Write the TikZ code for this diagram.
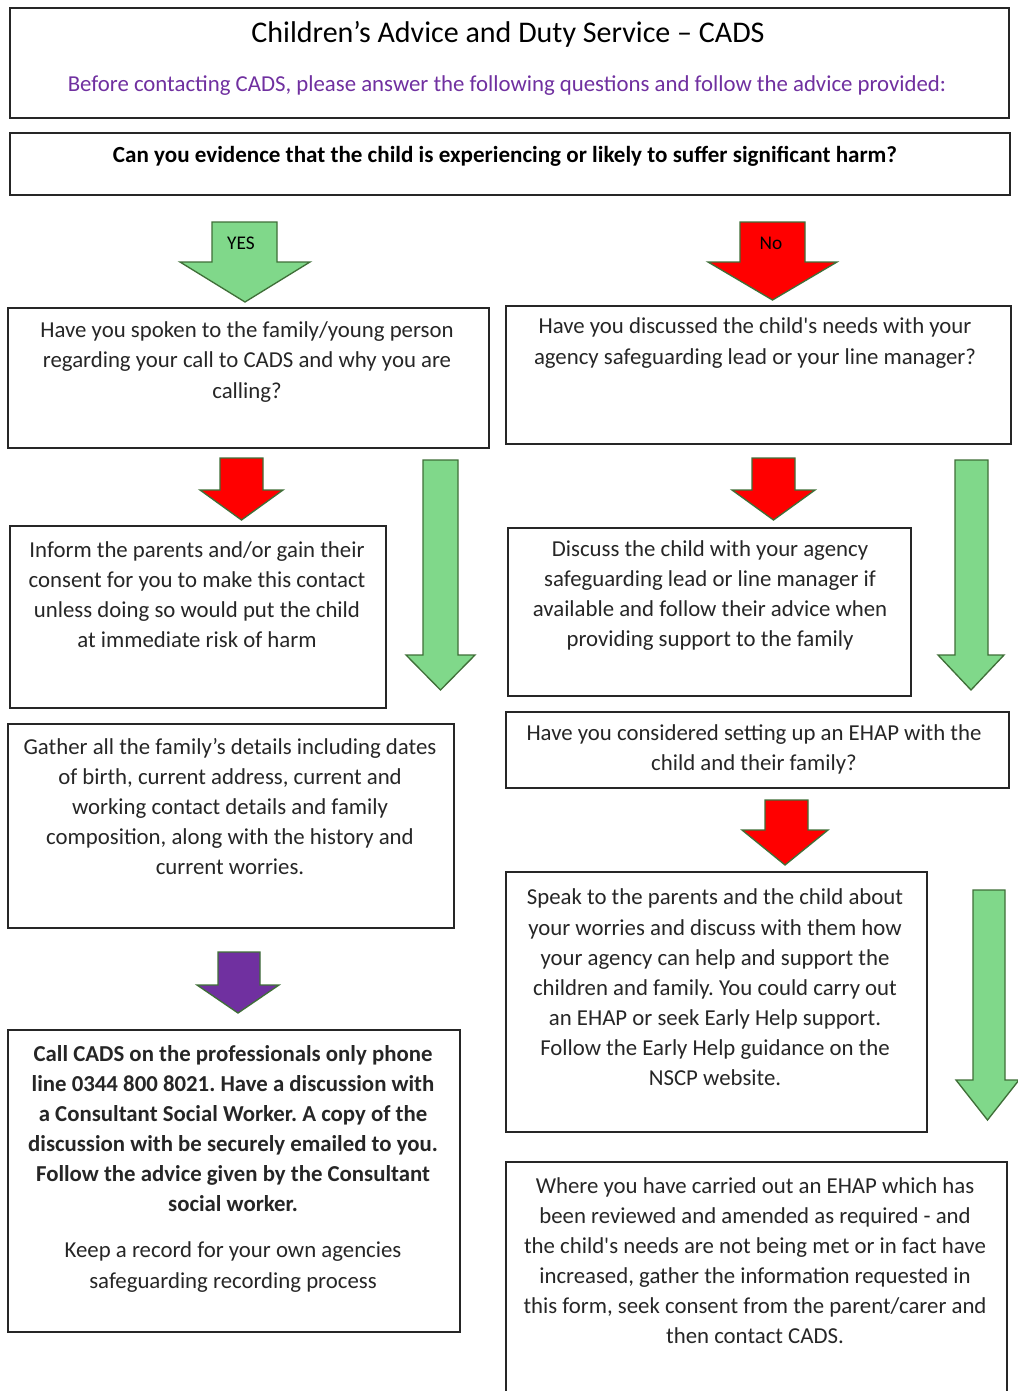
\documentclass[tikz,border=0pt]{standalone}
\usepackage{fontspec}
\setmainfont{Carlito}
\frenchspacing
\definecolor{cpurple}{HTML}{7030A0}
\definecolor{cgreen}{HTML}{80D88A}
\definecolor{cedge}{HTML}{3F6F38}
\definecolor{cred}{HTML}{FF0000}
\definecolor{cviolet}{HTML}{7030A0}
\newcommand\blkarrow[8]{\draw[#1] (#2,#4)--(#3,#4)--(#3,#5)--(#7,#5)--({(#6+#7)/2},#8)--(#6,#5)--(#2,#5)--cycle;}
\newcommand\sq{\textquotesingle}
\tikzset{
  pbox/.style 2 args={draw=black!85, line width=1.1pt, minimum width=#1*0.75pt, minimum height=#2*0.75pt, inner sep=0pt},
  txt/.style={align=center, inner sep=0pt, font=\fontsize{17.1}{22.6}\selectfont, text=black!85},
  btxt/.style={align=center, inner sep=0pt, font=\fontsize{17.1}{22.6}\selectfont\bfseries, text=black!85},
  garrow/.style={fill=cgreen, draw=cedge, line width=1pt, line join=miter},
  rarrow/.style={fill=cred, draw=cedge, line width=1pt, line join=miter},
  parrow/.style={fill=cviolet, draw=cedge, line width=1pt, line join=miter}
}
\begin{document}
\begin{tikzpicture}[x=0.75pt,y=-0.75pt]
\useasboundingbox (0,0) rectangle (1017,1391);
\fill[white] (0,0) rectangle (1017,1391);
% title
\node[pbox={999}{110}, line width=1.5pt] (title) at (509.5,63) {};
\node[inner sep=0pt, font=\fontsize{22.5}{26}\selectfont, text=black] (titlet) at (508,34) {Children’s Advice and Duty Service – CADS};
\node[inner sep=0pt, font=\fontsize{17.1}{20}\selectfont, text=cpurple] (subt) at (507,86) {Before contacting CADS, please answer the following questions and follow the advice provided:};
% question
\node[pbox={1000}{62}] (q) at (510,164) {};
\node[inner sep=0pt, font=\fontsize{17.3}{20}\selectfont\bfseries, text=black] (qt) at (505,156) {Can you evidence that the child is experiencing or likely to suffer significant harm?};
% yes / no arrows
\blkarrow{garrow}{212}{277}{222}{262}{180}{310}{302}
\node[inner sep=0pt, font=\fontsize{14.5}{16}\selectfont] (yes) at (241,243) {YES};
\blkarrow{rarrow}{740}{805}{222}{262}{708}{837}{300}
\node[inner sep=0pt, font=\fontsize{14.5}{16}\selectfont] (no) at (771,243) {No};
% left column
\node[pbox={481}{140}] (l1) at (248.5,378) {};
\node[txt] (l1t) at (247,362) {Have you spoken to the family/young person\\regarding your call to CADS and why you are\\calling?};
\blkarrow{rarrow}{220}{263}{458}{490}{200}{283}{520}
\blkarrow{garrow}{423}{458}{460}{655}{406}{475}{690}
\node[pbox={376}{182}] (l2) at (198,617) {};
\node[txt] (l2t) at (197,594.5) {Inform the parents and/or gain their\\consent for you to make this contact\\unless doing so would put the child\\at immediate risk of harm};
\node[pbox={446}{204}] (l3) at (231,826) {};
\node[txt] (l3t) at (230,806.5) {Gather all the family’s details including dates\\of birth, current address, current and\\working contact details and family\\composition, along with the history and\\current worries.};
\blkarrow{parrow}{218}{260}{952}{985}{197}{279}{1013}
\node[pbox={452}{302}] (l4) at (234,1181) {};
\node[btxt] (l4t) at (233,1128.5) {Call CADS on the professionals only phone\\line 0344 800 8021. Have a discussion with\\a Consultant Social Worker. A copy of the\\discussion with be securely emailed to you.\\Follow the advice given by the Consultant\\social worker.};
\node[txt] (l4u) at (233,1267) {Keep a record for your own agencies\\safeguarding recording process};
% right column
\node[pbox={505}{138}] (r1) at (758.5,375) {};
\node[txt] (r1t) at (755,343) {Have you discussed the child\sq s needs with your\\agency safeguarding lead or your line manager?};
\blkarrow{rarrow}{752}{795}{458}{490}{732}{815}{520}
\blkarrow{garrow}{955}{988}{460}{655}{938}{1004}{690}
\node[pbox={403}{168}] (r2) at (709.5,612) {};
\node[txt] (r2t) at (710,595.5) {Discuss the child with your agency\\safeguarding lead or line manager if\\available and follow their advice when\\providing support to the family};
\node[pbox={503}{76}] (r3) at (757.5,750) {};
\node[txt] (r3t) at (754,749) {Have you considered setting up an EHAP with the\\child and their family?};
\blkarrow{rarrow}{765}{808}{800}{830}{742}{828}{865}
\node[pbox={421}{260}] (r4) at (716.5,1002) {};
\node[txt] (r4t) at (715,987.5) {Speak to the parents and the child about\\your worries and discuss with them how\\your agency can help and support the\\children and family. You could carry out\\an EHAP or seek Early Help support.\\Follow the Early Help guidance on the\\NSCP website.};
\blkarrow{garrow}{973}{1005}{890}{1080}{956}{1019}{1120}
\node[pbox={501}{240}] (r5) at (756.5,1282) {};
\node[txt] (r5t) at (755,1260.5) {Where you have carried out an EHAP which has\\been reviewed and amended as required - and\\the child\sq s needs are not being met or in fact have\\increased, gather the information requested in\\this form, seek consent from the parent/carer and\\then contact CADS.};
\end{tikzpicture}
\end{document}
